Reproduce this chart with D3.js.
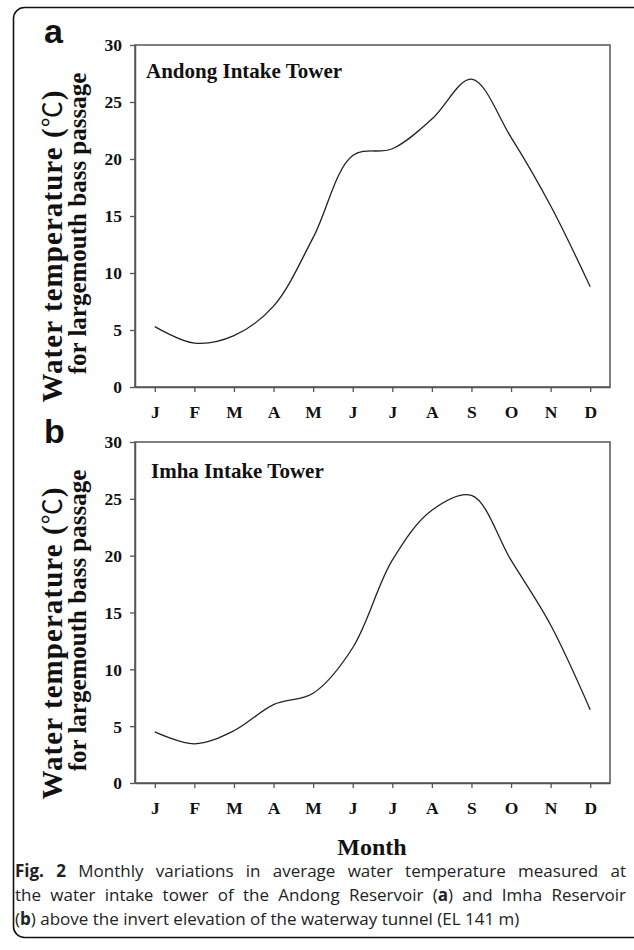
<!DOCTYPE html>
<html>
<head>
<meta charset="utf-8">
<script src="https://cdn.jsdelivr.net/npm/d3@7"></script>
<style>
html,body{margin:0;padding:0;background:#fff;}
svg{display:block;}
</style>
</head>
<body>
<svg id="chart" width="634" height="950"></svg>
<script>
// ---- data ----
const months = ["J","F","M","A","M","J","J","A","S","O","N","D"];
const andong = [5.3, 3.85, 4.5, 7.1, 13.1, 20.3, 20.9, 23.5, 27.0, 21.9, 15.9, 8.8];
const imha   = [4.5, 3.45, 4.6, 6.9, 7.9, 11.9, 19.6, 24.0, 25.3, 19.6, 13.9, 6.45];
const yTicks = [0, 5, 10, 15, 20, 25, 30];
const panelLetters = ["a", "b"];
const panelTitles = ["Andong Intake Tower", "Imha Intake Tower"];
const yLabelLine1 = ["Water temperature (", "\u2103", ")"];
const yLabelLine2 = "for largemouth bass passage";
const xTitle = "Month";

const svg = d3.select("#chart");
const serif = "'Liberation Serif','Times New Roman',serif";
const sans = "'Liberation Sans',Arial,sans-serif";
const cjk = "'Noto Sans CJK SC','Noto Sans CJK JP',sans-serif";

// outer frame
svg.append("rect")
  .attr("x", 13.5).attr("y", 7.5).attr("width", 660).attr("height", 930)
  .attr("rx", 11).attr("ry", 11)
  .attr("fill", "none").attr("stroke", "#111").attr("stroke-width", 1.6);

const left = 135, right = 610;
const panels = [
  {data: andong, top: 45, bottom: 387, letterY: 43, titleX: 146, titleY: 78},
  {data: imha,   top: 442, bottom: 783, letterY: 443, titleX: 151, titleY: 478}
];

const x = d3.scalePoint().domain(d3.range(months.length)).range([left, right]).padding(0.5);
const axisColor = "#555";

panels.forEach((p, i) => {
  const y = d3.scaleLinear().domain([0, 30]).range([p.bottom, p.top]);
  const g = svg.append("g");

  // panel box
  g.append("rect")
    .attr("x", left).attr("y", p.top)
    .attr("width", right - left).attr("height", p.bottom - p.top)
    .attr("fill", "none").attr("stroke", axisColor).attr("stroke-width", 1.5);

  // y axis
  const ya = g.append("g").attr("transform", `translate(${left},0)`)
    .call(d3.axisLeft(y).tickValues(yTicks).tickSize(5).tickSizeOuter(0).tickPadding(8));
  ya.select(".domain").attr("stroke", axisColor).attr("stroke-width", 1.5);
  ya.selectAll(".tick line").attr("stroke", axisColor).attr("stroke-width", 1.3);
  ya.selectAll(".tick text")
    .attr("font-family", serif).attr("font-weight", "bold").attr("font-size", 17.5)
    .attr("fill", "#111").attr("dy", "0.34em");

  // x axis
  const xa = g.append("g").attr("transform", `translate(0,${p.bottom})`)
    .call(d3.axisBottom(x).tickFormat(d => months[d]).tickSize(5).tickSizeOuter(0));
  xa.select(".domain").attr("stroke", axisColor).attr("stroke-width", 1.5);
  xa.selectAll(".tick line").attr("stroke", axisColor).attr("stroke-width", 1.3);
  xa.selectAll(".tick text")
    .attr("font-family", serif).attr("font-weight", "bold").attr("font-size", 17.5)
    .attr("fill", "#111").attr("y", 31).attr("dy", 0);

  // curve
  const line = d3.line()
    .x((d, j) => x(j))
    .y(d => y(d))
    .curve(d3.curveCatmullRom.alpha(0.5));
  g.append("path").datum(p.data)
    .attr("d", line)
    .attr("fill", "none").attr("stroke", "#222").attr("stroke-width", 1.3);

  // panel title
  g.append("text").attr("x", p.titleX).attr("y", p.titleY)
    .attr("font-family", serif).attr("font-weight", "bold").attr("font-size", 21)
    .attr("fill", "#111").text(panelTitles[i]);

  // panel letter
  g.append("text").attr("x", 44).attr("y", p.letterY)
    .attr("font-family", sans).attr("font-weight", "bold").attr("font-size", 34)
    .attr("fill", "#111").text(panelLetters[i]);

  // y label (two lines)
  const off = p.top - 45;
  const t1 = g.append("text")
    .attr("transform", `translate(62,${246.5 + off}) rotate(-90)`)
    .attr("text-anchor", "middle")
    .attr("font-family", serif).attr("font-weight", "bold").attr("font-size", 29)
    .attr("fill", "#111")
    .attr("textLength", 312).attr("lengthAdjust", "spacing");
  t1.append("tspan").text(yLabelLine1[0]);
  t1.append("tspan").attr("font-family", cjk).attr("font-weight", "normal").attr("font-size", 26).text(yLabelLine1[1]);
  t1.append("tspan").text(yLabelLine1[2]);
  g.append("text")
    .attr("transform", `translate(86,${223.5 + off}) rotate(-90)`)
    .attr("text-anchor", "middle")
    .attr("font-family", serif).attr("font-weight", "bold").attr("font-size", 25)
    .attr("fill", "#111").text(yLabelLine2);
});

// x title
svg.append("text").attr("x", 372).attr("y", 855)
  .attr("text-anchor", "middle")
  .attr("font-family", serif).attr("font-weight", "bold").attr("font-size", 24)
  .attr("fill", "#111").text(xTitle);

// caption (justified first two lines, natural last line)
const capFont = "'Open Sans','Noto Sans',sans-serif";
const cap = svg.append("g").attr("font-family", capFont).attr("font-size", 17).attr("fill", "#222");
const capLeft = 15, capRight = 626;
function justify(t) {
  const w = t.node().getComputedTextLength();
  const txt = t.text();
  const spaces = (txt.match(/ /g) || []).length;
  if (spaces > 0 && w < capRight - capLeft) {
    t.attr("word-spacing", ((capRight - capLeft) - w) / spaces);
  }
}
const l1 = cap.append("text").attr("x", capLeft).attr("y", 877);
l1.append("tspan").attr("font-weight", "bold").text("Fig. 2");
l1.append("tspan").text(" Monthly variations in average water temperature measured at");
justify(l1);
const l2 = cap.append("text").attr("x", capLeft).attr("y", 901);
l2.append("tspan").text("the water intake tower of the Andong Reservoir (");
l2.append("tspan").attr("font-weight", "bold").text("a");
l2.append("tspan").text(") and Imha Reservoir");
justify(l2);
const l3 = cap.append("text").attr("x", capLeft).attr("y", 925);
l3.append("tspan").text("(");
l3.append("tspan").attr("font-weight", "bold").text("b");
l3.append("tspan").text(") above the invert elevation of the waterway tunnel (EL 141 m)");
</script>
</body>
</html>
